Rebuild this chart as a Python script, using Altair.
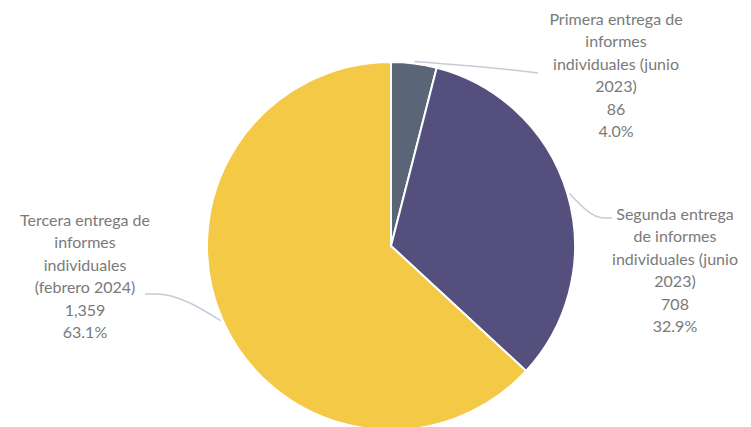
import math
import altair as alt
import pandas as pd

# ---- data ----
categories = [
    "Primera entrega de informes individuales (junio 2023)",
    "Segunda entrega de informes individuales (junio 2023)",
    "Tercera entrega de informes individuales (febrero 2024)",
]
values = [86, 708, 1359]
value_labels = ["86", "708", "1,359"]
label_lines = [
    ["Primera entrega de", "informes", "individuales (junio", "2023)"],
    ["Segunda entrega", "de informes", "individuales (junio", "2023)"],
    ["Tercera entrega de", "informes", "individuales", "(febrero 2024)"],
]
colors = ["#5a6678", "#554f7e", "#f4c945"]

# ---- layout (style constants) ----
W, H = 735, 419
CX, CY, R = 383, 238, 184
label_pos = [(608, 4), (667, 199), (77, 205)]          # label centre x, top y
leader_bends = [((522, 64), (530, 65)), ((596, 210), (604, 210)), ((148, 286), (137, 286))]
FONT = "Lato"
FS = 16
LH = 22.4
TEXT_COLOR = "#7a7a7a"
LINE_COLOR = "#c5cbd8"

total = sum(values)
pcts = [f"{v / total * 100:.1f}%" for v in values]

pie_df = pd.DataFrame({"cat": categories, "value": values, "order": [0, 1, 2]})

# label texts
lab_rows = []
for i, (lines, (lx, ly)) in enumerate(zip(label_lines, label_pos)):
    lab_rows.append({"x": lx, "y": ly,
                     "text": "\n".join(lines + [value_labels[i], pcts[i]])})
lab_df = pd.DataFrame(lab_rows)

# leader lines, starting at slice mid-angle on the pie edge
line_rows = []
cum = 0
for i, v in enumerate(values):
    mid = (cum + v / 2) / total * 2 * math.pi
    cum += v
    sx = CX + (R + 2) * math.sin(mid)
    sy = CY - (R + 2) * math.cos(mid)
    pts = [(sx, sy)] + list(leader_bends[i])
    for k, (px, py) in enumerate(pts):
        line_rows.append({"key": i, "k": k, "x": px, "y": py})
line_df = pd.DataFrame(line_rows)

xs = alt.Scale(domain=[0, W], range=[0, W], nice=False, zero=False)
ys = alt.Scale(domain=[0, H], range=[0, H], nice=False, zero=False)

pie = alt.Chart(pie_df).mark_arc(outerRadius=R, stroke="white", strokeWidth=2).encode(
    theta=alt.Theta("value:Q", stack=True),
    order=alt.Order("order:Q"),
    color=alt.Color("cat:N", scale=alt.Scale(domain=categories, range=colors), legend=None),
    x=alt.value(CX),
    y=alt.value(CY),
)

leaders = alt.Chart(line_df).mark_line(color=LINE_COLOR, strokeWidth=1.5, interpolate="monotone").encode(
    x=alt.X("x:Q", scale=xs, axis=None),
    y=alt.Y("y:Q", scale=ys, axis=None),
    detail="key:N",
    order="k:Q",
)

labels = alt.Chart(lab_df).mark_text(
    font=FONT, fontSize=FS, color=TEXT_COLOR, align="center", baseline="top",
    lineBreak="\n", lineHeight=LH,
).encode(
    x=alt.X("x:Q", scale=xs, axis=None),
    y=alt.Y("y:Q", scale=ys, axis=None),
    text="text:N",
)

chart = alt.layer(pie, leaders, labels).properties(
    width=W, height=H, padding=0, autosize=alt.AutoSizeParams(type="none")
).configure_view(stroke=None).resolve_scale(x="shared", y="shared")

chart.save("out.html", embed_options={"renderer": "svg", "actions": False})
